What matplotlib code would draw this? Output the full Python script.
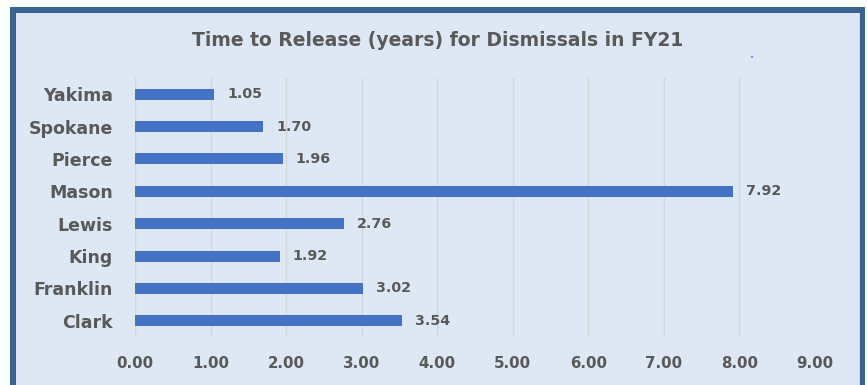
import matplotlib.pyplot as plt
from matplotlib.patches import Rectangle, Circle

# Chart data (top to bottom as shown)
counties = ['Yakima', 'Spokane', 'Pierce', 'Mason', 'Lewis', 'King', 'Franklin', 'Clark']
years = [1.05, 1.70, 1.96, 7.92, 2.76, 1.92, 3.02, 3.54]
x_ticks = [0, 1, 2, 3, 4, 5, 6, 7, 8, 9]

bar_color = '#4472c4'
text_color = '#595959'
bg_color = '#dde8f4'
frame_color = '#3a6394'
font = 'DejaVu Sans'

W, H = 867, 385
fig = plt.figure(figsize=(W / 100, H / 100), dpi=100)
fig.patch.set_facecolor('white')

# Outer frame (dark blue border with light blue fill) - kept behind the axes
fig.patches.append(Rectangle((10 / W, -0.05), 855 / W, (H - 7) / H + 0.05,
                             transform=fig.transFigure, facecolor=frame_color,
                             edgecolor='none', zorder=-3))
fig.patches.append(Rectangle((16 / W, -0.05), 844 / W, (H - 13) / H + 0.05,
                             transform=fig.transFigure, facecolor=bg_color,
                             edgecolor='none', zorder=-2))
# thin grey line just inside the right border
fig.patches.append(Rectangle((859 / W, -0.05), 1 / W, (H - 13) / H + 0.05,
                             transform=fig.transFigure, facecolor='#cfd6de',
                             edgecolor='none', zorder=-1))
# stray blue dot near the title
fig.patches.append(Circle((752 / W, 1 - 57 / H), 1.3 / W, transform=fig.transFigure,
                          facecolor='#3a3aff', edgecolor='none', zorder=-1))

ax = fig.add_axes([135 / W, 1 - 337 / H, 680 / W, 259 / H])
ax.set_facecolor('none')

pos = list(range(len(counties)))[::-1]
ax.barh(pos, years, height=0.34, color=bar_color, zorder=2)
for y, v in zip(pos, years):
    ax.text(v + 0.17, y, f'{v:.2f}', va='center', ha='left', fontsize=10.3,
            fontweight='bold', color=text_color, family=font)

ax.set_xlim(0, 9)
ax.set_ylim(-0.5, len(counties) - 0.5)
ax.set_xticks(x_ticks)
ax.set_xticklabels([f'{t:.2f}' for t in x_ticks], fontsize=10.8, fontweight='bold',
                   color=text_color, family=font)
ax.set_yticks(pos)
ax.set_yticklabels(counties, fontsize=12.5, fontweight='bold', color=text_color,
                   family=font)
ax.tick_params(axis='both', length=0)
ax.tick_params(axis='x', pad=14)
ax.tick_params(axis='y', pad=16)
ax.grid(axis='x', color='#d6d6d6', linewidth=1, zorder=1)
ax.set_axisbelow(True)
for s in ax.spines.values():
    s.set_visible(False)

fig.text(438 / W, 1 - 41 / H, 'Time to Release (years) for Dismissals in FY21',
         ha='center', va='center', fontsize=13.5, fontweight='bold',
         color=text_color, family=font)

fig.savefig('out.png', dpi=100)
